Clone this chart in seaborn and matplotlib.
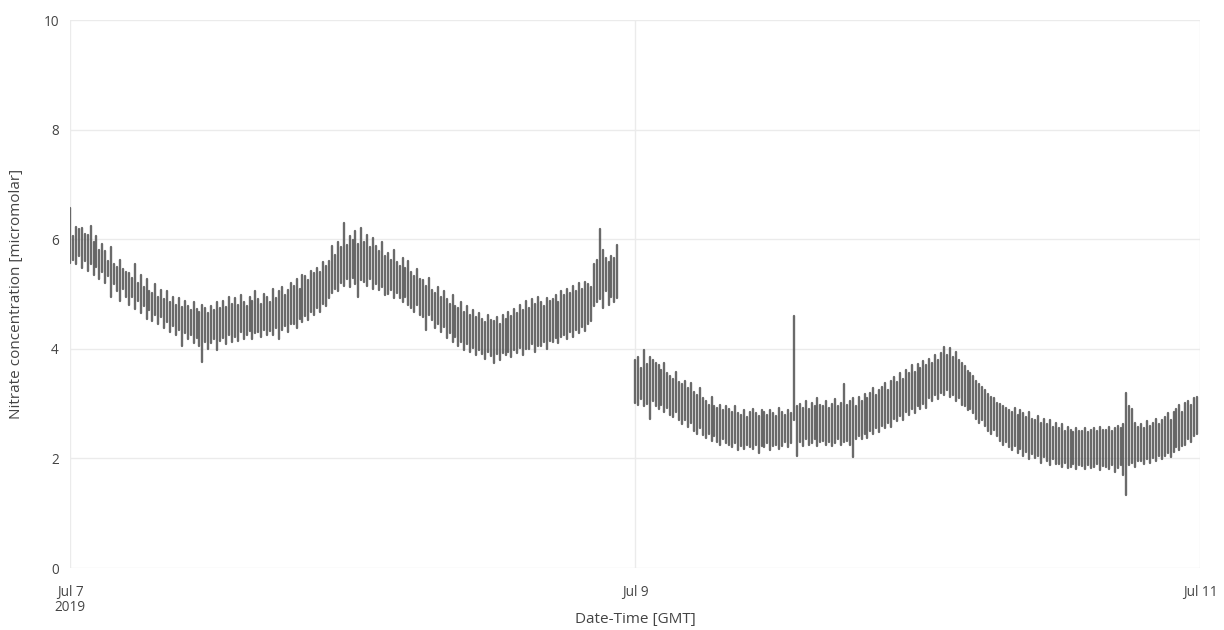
import numpy as np
import pandas as pd
import matplotlib
matplotlib.use("Agg")
import matplotlib.pyplot as plt
import matplotlib.dates as mdates
import seaborn as sns

# ---- data (one vertical bar per 15-min burst) ----
seg1_start = "2019-07-07 00:00"
seg2_start = "2019-07-09 00:00"
burst_minutes = 15

seg1_hi = [
    6.57, 6.05, 6.22, 6.18, 6.20, 6.10, 6.08, 6.25, 5.95, 6.05, 5.80, 5.92,
    5.78, 5.60, 5.85, 5.55, 5.50, 5.62, 5.45, 5.40, 5.38, 5.30, 5.55, 5.20,
    5.35, 5.12, 5.28, 5.05, 5.02, 5.18, 4.95, 5.08, 4.90, 5.05, 4.85, 4.95,
    4.80, 4.92, 4.76, 4.88, 4.78, 4.70, 4.85, 4.72, 4.68, 4.80, 4.75, 4.66,
    4.78, 4.70, 4.85, 4.74, 4.88, 4.76, 4.95, 4.82, 4.92, 4.80, 4.98, 4.86,
    4.78, 4.95, 4.88, 5.05, 4.90, 4.82, 5.00, 4.95, 4.85, 5.10, 4.92, 5.05,
    5.12, 4.98, 5.08, 5.20, 5.15, 5.28, 5.10, 5.35, 5.32, 5.25, 5.42, 5.38,
    5.48, 5.40, 5.58, 5.52, 5.60, 5.88, 5.72, 5.95, 5.85, 6.30, 5.90, 6.05,
    5.98, 6.15, 5.92, 6.20, 5.95, 6.08, 5.85, 6.02, 5.88, 5.78, 5.95, 5.70,
    5.75, 5.62, 5.80, 5.58, 5.52, 5.65, 5.48, 5.60, 5.40, 5.32, 5.45, 5.28,
    5.25, 5.15, 5.30, 5.08, 5.02, 5.12, 4.95, 5.05, 4.90, 4.82, 4.98, 4.78,
    4.75, 4.85, 4.68, 4.78, 4.62, 4.70, 4.58, 4.65, 4.55, 4.48, 4.62, 4.52,
    4.50, 4.58, 4.45, 4.62, 4.55, 4.68, 4.60, 4.72, 4.65, 4.80, 4.70, 4.88,
    4.75, 4.90, 4.82, 4.95, 4.85, 4.78, 4.92, 4.88, 4.90, 4.98, 4.85, 5.05,
    4.98, 5.10, 5.02, 5.15, 5.05, 5.20, 5.10, 5.22, 5.18, 5.12, 5.55, 5.62,
    6.19, 5.80, 5.65, 5.58, 5.70, 5.65, 5.90,
]
seg1_lo = [
    5.57, 5.62, 5.55, 5.70, 5.48, 5.60, 5.42, 5.55, 5.35, 5.50, 5.28, 5.40,
    5.20, 5.32, 4.95, 5.18, 5.05, 4.88, 5.10, 4.95, 4.80, 4.95, 4.72, 4.88,
    4.65, 4.78, 4.55, 4.70, 4.50, 4.62, 4.45, 4.58, 4.38, 4.48, 4.30, 4.42,
    4.25, 4.35, 4.05, 4.28, 4.18, 4.25, 4.10, 4.20, 4.05, 3.76, 4.12, 4.00,
    4.10, 4.18, 3.98, 4.15, 4.20, 4.08, 4.25, 4.12, 4.22, 4.15, 4.30, 4.18,
    4.25, 4.32, 4.18, 4.28, 4.30, 4.22, 4.35, 4.26, 4.32, 4.25, 4.38, 4.18,
    4.35, 4.42, 4.30, 4.45, 4.45, 4.38, 4.55, 4.48, 4.60, 4.52, 4.68, 4.62,
    4.75, 4.68, 4.82, 4.78, 4.92, 5.02, 5.10, 5.05, 5.20, 5.15, 5.28, 5.12,
    5.30, 5.18, 4.95, 5.25, 5.22, 5.15, 5.28, 5.10, 5.18, 5.08, 5.12, 4.98,
    5.00, 5.08, 4.92, 5.02, 4.92, 4.85, 4.95, 4.80, 4.75, 4.68, 4.80, 4.62,
    4.58, 4.35, 4.62, 4.52, 4.38, 4.45, 4.30, 4.40, 4.20, 4.28, 4.12, 4.22,
    4.05, 4.12, 3.98, 4.08, 3.95, 4.02, 3.88, 3.98, 3.90, 3.82, 3.95, 3.86,
    3.75, 3.90, 3.80, 3.92, 3.88, 3.95, 3.85, 3.98, 3.92, 4.02, 3.88, 4.00,
    4.00, 4.08, 3.95, 4.05, 4.05, 4.12, 4.00, 4.15, 4.12, 4.20, 4.10, 4.22,
    4.25, 4.18, 4.30, 4.22, 4.35, 4.28, 4.40, 4.32, 4.45, 4.50, 4.78, 4.85,
    4.90, 4.75, 5.05, 4.80, 4.95, 4.85, 4.93,
]
seg2_hi = [
    3.80, 3.85, 3.65, 3.98, 3.72, 3.85, 3.80, 3.75, 3.70, 3.62, 3.75, 3.55,
    3.50, 3.45, 3.58, 3.40, 3.35, 3.42, 3.28, 3.38, 3.22, 3.15, 3.28, 3.10,
    3.05, 2.98, 3.12, 2.95, 2.92, 2.98, 2.88, 2.95, 2.90, 2.85, 2.95, 2.82,
    2.80, 2.88, 2.76, 2.85, 2.90, 2.82, 2.78, 2.88, 2.85, 2.80, 2.88, 2.82,
    2.78, 2.92, 2.85, 2.80, 2.88, 2.82, 4.60, 2.95, 3.00, 2.92, 3.05, 2.90,
    3.02, 2.95, 3.10, 2.98, 2.95, 3.05, 2.92, 3.00, 3.08, 2.95, 3.02, 3.35,
    2.98, 3.05, 3.10, 2.95, 3.12, 3.05, 3.18, 3.10, 3.20, 3.28, 3.15, 3.25,
    3.30, 3.38, 3.25, 3.42, 3.48, 3.40, 3.55, 3.45, 3.62, 3.55, 3.70, 3.58,
    3.72, 3.65, 3.78, 3.70, 3.82, 3.75, 3.88, 3.80, 3.92, 4.03, 3.88, 4.02,
    3.85, 3.95, 3.80, 3.75, 3.68, 3.60, 3.55, 3.50, 3.42, 3.35, 3.30, 3.25,
    3.18, 3.12, 3.10, 3.02, 3.00, 2.95, 2.92, 2.88, 2.85, 2.92, 2.80, 2.88,
    2.82, 2.75, 2.85, 2.72, 2.70, 2.78, 2.65, 2.72, 2.62, 2.70, 2.58, 2.65,
    2.55, 2.62, 2.50, 2.58, 2.52, 2.48, 2.55, 2.50, 2.50, 2.55, 2.48, 2.52,
    2.55, 2.50, 2.58, 2.52, 2.52, 2.58, 2.50, 2.55, 2.60, 2.55, 2.62, 3.19,
    2.95, 2.90, 2.65, 2.58, 2.62, 2.55, 2.68, 2.60, 2.65, 2.72, 2.62, 2.70,
    2.75, 2.82, 2.70, 2.85, 2.90, 2.98, 2.85, 3.02, 3.05, 2.98, 3.10, 3.12,
]
seg2_lo = [
    3.02, 2.98, 3.08, 2.95, 3.00, 2.72, 3.05, 2.95, 2.90, 2.98, 2.85, 2.92,
    2.80, 2.75, 2.85, 2.70, 2.62, 2.70, 2.58, 2.65, 2.50, 2.45, 2.55, 2.42,
    2.38, 2.45, 2.32, 2.40, 2.30, 2.25, 2.35, 2.28, 2.25, 2.20, 2.28, 2.15,
    2.22, 2.18, 2.25, 2.20, 2.18, 2.24, 2.10, 2.22, 2.20, 2.28, 2.15, 2.22,
    2.25, 2.18, 2.22, 2.30, 2.20, 2.28, 2.70, 2.05, 2.30, 2.22, 2.35, 2.25,
    2.28, 2.35, 2.22, 2.30, 2.32, 2.25, 2.30, 2.22, 2.28, 2.35, 2.25, 2.30,
    2.32, 2.25, 2.03, 2.35, 2.40, 2.35, 2.45, 2.38, 2.50, 2.45, 2.55, 2.48,
    2.60, 2.55, 2.65, 2.58, 2.72, 2.68, 2.78, 2.70, 2.85, 2.80, 2.90, 2.82,
    2.95, 2.90, 3.00, 2.92, 3.10, 3.05, 3.15, 3.08, 3.20, 3.15, 3.25, 3.12,
    3.15, 3.05, 3.10, 2.98, 2.95, 2.88, 2.90, 2.82, 2.72, 2.65, 2.70, 2.60,
    2.50, 2.45, 2.52, 2.40, 2.32, 2.25, 2.30, 2.20, 2.15, 2.22, 2.10, 2.18,
    2.05, 2.12, 1.98, 2.08, 2.00, 2.05, 1.92, 2.02, 1.95, 1.88, 1.98, 1.90,
    1.90, 1.85, 1.92, 1.82, 1.85, 1.90, 1.80, 1.88, 1.86, 1.80, 1.88, 1.82,
    1.84, 1.90, 1.78, 1.86, 1.85, 1.80, 1.88, 1.75, 1.82, 1.88, 1.70, 1.33,
    1.88, 1.92, 1.85, 1.95, 1.95, 1.90, 1.98, 1.92, 2.00, 1.95, 2.05, 1.98,
    2.05, 2.10, 2.02, 2.12, 2.20, 2.15, 2.22, 2.25, 2.35, 2.30, 2.40, 2.45,
]

x_ticks = ["2019-07-07", "2019-07-09", "2019-07-11"]
x_tick_labels = ["Jul 7\n2019", "Jul 9", "Jul 11"]
y_ticks = [0, 2, 4, 6, 8, 10]
x_title = "Date-Time [GMT]"
y_title = "Nitrate concentration [micromolar]"

# ---- long-form table: two points (low, high) per burst ----
rows = []
bar_id = 0
for start, lo, hi in [(seg1_start, seg1_lo, seg1_hi), (seg2_start, seg2_lo, seg2_hi)]:
    t0 = pd.Timestamp(start)
    for i, (a, b) in enumerate(zip(lo, hi)):
        t = t0 + pd.Timedelta(minutes=burst_minutes * i)
        rows.append({"time": t, "value": a, "bar": bar_id})
        rows.append({"time": t, "value": b, "bar": bar_id})
        bar_id += 1
df = pd.DataFrame(rows)

# ---- style ----
sns.set_theme(style="white")
plt.rcParams["font.family"] = ["Open Sans", "DejaVu Sans"]
text_color = "#444444"
grid_color = "#ebebeb"

fig = plt.figure(figsize=(12.24, 6.30), dpi=100)
ax = fig.add_axes([70 / 1224, 62 / 630, 1130 / 1224, 548 / 630])

sns.lineplot(data=df, x="time", y="value", units="bar", estimator=None,
             color="#505050", linewidth=1.7, alpha=0.85, ax=ax, sort=False)

ax.set_ylim(0, 10)
ax.set_xlim(pd.Timestamp(x_ticks[0]), pd.Timestamp(x_ticks[-1]))
ax.set_yticks(y_ticks)
ax.set_yticklabels([str(v) for v in y_ticks])
ax.set_xticks([pd.Timestamp(t) for t in x_ticks])
ax.set_xticklabels(x_tick_labels)

ax.grid(True, color=grid_color, linewidth=1)
ax.set_axisbelow(True)
for s in ax.spines.values():
    s.set_visible(False)
ax.tick_params(axis="both", length=0, labelsize=9.8, colors=text_color)
ax.tick_params(axis="y", pad=8)
ax.tick_params(axis="x", pad=12)
for lbl in ax.get_xticklabels():
    lbl.set_linespacing(1.0)

ax.set_xlabel("")
fig.text((70 + 1130 / 2) / 1224, (630 - 619) / 630, x_title, fontsize=11,
         color=text_color, ha="center", va="center")
ax.set_ylabel(y_title, fontsize=11, color=text_color, labelpad=14)

fig.savefig("out.png", dpi=100)
